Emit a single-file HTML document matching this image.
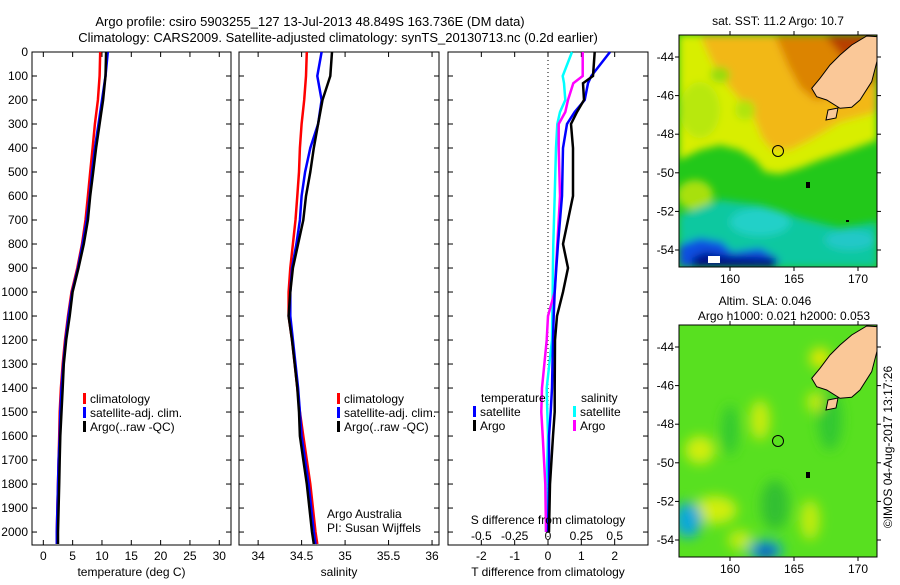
<!DOCTYPE html>
<html><head><meta charset="utf-8"><style>
html,body{margin:0;padding:0;background:#fff;}
svg text{font-family:"Liberation Sans",sans-serif;font-size:12px;fill:#000;}
</style></head><body>
<svg id="chart" width="900" height="580" viewBox="0 0 900 580" xmlns="http://www.w3.org/2000/svg">
<defs>
<filter id="blur" x="-10%" y="-10%" width="120%" height="120%"><feGaussianBlur stdDeviation="4"/></filter>
<filter id="blur2" x="-10%" y="-10%" width="120%" height="120%"><feGaussianBlur stdDeviation="6"/></filter>
<clipPath id="clipA"><rect x="679" y="35" width="198" height="232"/></clipPath>
<clipPath id="clipB"><rect x="679" y="325" width="198" height="232"/></clipPath>
</defs>
<text x="310" y="26" text-anchor="middle" style="font-size:13px">Argo profile: csiro 5903255_127 13-Jul-2013 48.849S 163.736E (DM data)</text>
<text x="338" y="42" text-anchor="middle" style="font-size:13px">Climatology: CARS2009. Satellite-adjusted climatology: synTS_20130713.nc (0.2d earlier)</text>

<!-- Map 1: SST -->
<g>
<text x="778" y="25" text-anchor="middle">sat. SST: 11.2 Argo: 10.7</text>
<g clip-path="url(#clipA)">
<rect x="679" y="35" width="198" height="232" fill="#22c81a"/>
<g filter="url(#blur)">
<path d="M679,160 L700,150 L720,145 L740,150 L755,160 L765,172 L780,174 L800,168 L820,160 L850,150 L877,140 L877,35 L679,35 Z" fill="#d8ee00"/>
<path d="M700,35 L877,35 L877,112 L840,122 L810,140 L790,150 L772,150 L762,138 L754,118 L740,100 L725,82 L712,62 Z" fill="#f2b818"/>
<path d="M775,35 L877,35 L877,82 L840,96 L815,100 L800,88 L788,66 Z" fill="#dc8400"/>
<path d="M825,35 L877,35 L877,55 L845,60 Z" fill="#b84000"/>
<ellipse cx="700" cy="110" rx="20" ry="28" fill="#b8e810"/>
<ellipse cx="720" cy="75" rx="10" ry="8" fill="#98dc10"/>
<ellipse cx="745" cy="110" rx="10" ry="10" fill="#b0e410"/>
<ellipse cx="695" cy="195" rx="18" ry="15" fill="#a8e010"/>
<path d="M679,215 L720,200 L760,205 L800,218 L840,228 L877,222 L877,267 L679,267 Z" fill="#10c8a0"/>
<ellipse cx="760" cy="222" rx="30" ry="14" fill="#20d0c8"/>
<ellipse cx="850" cy="240" rx="25" ry="10" fill="#20c8c8"/>
<path d="M679,245 L700,238 L722,242 L732,252 L760,248 L778,258 L778,267 L679,267 Z" fill="#1050e0"/>
<path d="M692,258 L705,252 L730,256 L776,258 L776,267 L692,267 Z" fill="#00108a"/>
</g>
<rect x="708" y="256" width="12" height="7" fill="#fff"/>
<circle cx="778" cy="151" r="5.5" fill="none" stroke="#000" stroke-width="1"/>
<path class="land" d="M866.7,36 L877.3,36.7 L877.3,60 L871.7,81.7 L860,100 L851.7,107.3 L840,108.3 L826.7,100 L816.7,96.7 L811.7,88.3 L820,78.3 L830,65 L840,55 L851.7,45 Z" fill="#fac898" stroke="#000" stroke-width="1"/>
<path d="M828,110 L838,108 L836,118 L826,120 Z" fill="#fac898" stroke="#000"/>
<rect x="806" y="182" width="4" height="6" fill="#000"/>
<rect x="846" y="220" width="3" height="2" fill="#000"/>
</g>
<rect x="679" y="35" width="198" height="232" fill="none" stroke="#000"/>
</g>

<!-- Map 2: SLA -->
<g>
<text x="765" y="305" text-anchor="middle">Altim. SLA: 0.046</text>
<text x="784" y="320" text-anchor="middle">Argo h1000: 0.021 h2000: 0.053</text>
<g clip-path="url(#clipB)">
<rect x="679" y="325" width="198" height="232" fill="#58e020"/>
<g filter="url(#blur2)">
<ellipse cx="700" cy="450" rx="15" ry="14" fill="#d0ee10"/>
<ellipse cx="715" cy="510" rx="22" ry="14" fill="#d0ee10"/>
<ellipse cx="760" cy="420" rx="10" ry="20" fill="#c8ec10"/>
<ellipse cx="730" cy="430" rx="8" ry="25" fill="#30c830"/>
<ellipse cx="775" cy="505" rx="14" ry="25" fill="#30c030"/>
<ellipse cx="830" cy="420" rx="12" ry="30" fill="#30c830"/>
<ellipse cx="810" cy="520" rx="10" ry="20" fill="#c0ec10"/>
<ellipse cx="740" cy="540" rx="12" ry="10" fill="#c0ec10"/>
<ellipse cx="815" cy="402" rx="8" ry="10" fill="#c8ec10"/>
<ellipse cx="820" cy="358" rx="10" ry="10" fill="#e8e800"/>
<ellipse cx="688" cy="520" rx="14" ry="18" fill="#10a8d8"/>
<ellipse cx="765" cy="550" rx="18" ry="10" fill="#10a8d0"/>
<ellipse cx="766" cy="552" rx="10" ry="6" fill="#1030c0"/>
</g>
<circle cx="778" cy="441" r="5.5" fill="none" stroke="#000" stroke-width="1"/>
<path class="land" d="M866.7,326 L877.3,326.7 L877.3,350 L871.7,371.7 L860,390 L851.7,397.3 L840,398.3 L826.7,390 L816.7,386.7 L811.7,378.3 L820,368.3 L830,355 L840,345 L851.7,335 Z" fill="#fac898" stroke="#000" stroke-width="1"/>
<path d="M828,400 L838,398 L836,408 L826,410 Z" fill="#fac898" stroke="#000"/>
<rect x="806" y="472" width="4" height="6" fill="#000"/>
</g>
<rect x="679" y="325" width="198" height="232" fill="none" stroke="#000"/>
</g>
<text transform="translate(892,447) rotate(-90)" text-anchor="middle">©IMOS 04-Aug-2017 13:17:26</text>
<g id="dyn"></g>
</svg>
<script>
// ---- Data ----
const depths = [0,100,200,300,400,500,600,700,800,900,1000,1100,1200,1300,1400,1500,1600,1700,1800,1900,2000,2050];
const tempClim = [9.7,9.6,9.3,8.8,8.4,8.0,7.6,7.2,6.6,5.8,4.8,4.2,3.7,3.3,3.0,2.8,2.7,2.6,2.5,2.4,2.3,2.3];
const tempSat  = [11.0,10.6,10.0,9.4,8.8,8.3,7.9,7.4,6.7,5.9,4.9,4.3,3.8,3.4,3.1,2.9,2.8,2.6,2.5,2.4,2.3,2.3];
const tempArgo = [10.7,10.6,10.2,9.6,9.0,8.5,8.0,7.6,6.9,6.0,5.0,4.5,3.9,3.5,3.3,3.1,2.9,2.8,2.7,2.6,2.5,2.5];
const salClim = [34.56,34.55,34.53,34.5,34.48,34.47,34.45,34.43,34.4,34.37,34.35,34.35,34.39,34.42,34.45,34.48,34.52,34.56,34.6,34.63,34.66,34.68];
const salSat  = [34.73,34.68,34.73,34.69,34.6,34.54,34.5,34.48,34.44,34.39,34.37,34.37,34.4,34.43,34.46,34.48,34.5,34.54,34.58,34.61,34.64,34.66];
const salArgo = [34.85,34.83,34.74,34.69,34.64,34.6,34.55,34.52,34.46,34.4,34.37,34.35,34.39,34.42,34.45,34.47,34.48,34.52,34.56,34.59,34.62,34.64];
const diffDepths = [0,100,130,200,250,300,400,600,700,800,900,1000,1100,1200,1400,1500,1600,1800,2000];
const tDiffSat  = [1.86,1.3,1.2,1.1,0.8,0.57,0.45,0.42,0.36,0.3,0.25,0.2,0.17,0.15,0.12,0.08,0.03,0.03,0.0];
const tDiffArgo = [1.4,1.35,1.05,1.08,0.87,0.69,0.75,0.75,0.6,0.45,0.6,0.45,0.27,0.21,0.2,0.2,0.15,0.06,0.03];
const sDiffSat  = [0.18,0.11,0.12,0.13,0.09,0.07,0.06,0.05,0.045,0.04,0.037,0.035,0.032,0.03,-0.01,-0.005,0,-0.01,-0.015];
const sDiffArgo = [0.26,0.26,0.19,0.15,0.13,0.08,0.08,0.09,0.08,0.07,0.06,0.05,0,-0.01,-0.045,-0.05,-0.04,-0.02,-0.015];
const depthTicks = [0,100,200,300,400,500,600,700,800,900,1000,1100,1200,1300,1400,1500,1600,1700,1800,1900,2000];
const tempTicks = [0,5,10,15,20,25,30];
const salTicks = [34,34.5,35,35.5,36];
const tDiffTicks = [-2,-1,0,1,2];
const sDiffTicks = [-0.5,-0.25,0,0.25,0.5];
const sDiffTickLabels = ["-0.5","-0.25","0","0.25","0.5"];
const lonTicks = [160,165,170];
const latTicks = [-44,-46,-48,-50,-52,-54];

// ---- Scales ----
const NS="http://www.w3.org/2000/svg";
const g=document.getElementById('dyn');
const Y0=52, Y1=545, D0=0, D1=2054;
const yD=d=>Y0+(d-D0)/(D1-D0)*(Y1-Y0);
const P1={x0:32,x1:231,v0:-1.93,v1:32};
const P2={x0:239,x1:439,v0:33.78,v1:36.08};
const P3={x0:448,x1:648,v0:-3,v1:3};
const P3s={x0:448,x1:648,v0:-0.75,v1:0.75};
const sx=(P,v)=>P.x0+(v-P.v0)/(P.v1-P.v0)*(P.x1-P.x0);
const lonX=lon=>730+(lon-160)*12.8;
const latY=(lat,off)=>57+(-44-lat)*19.3+off;

function el(tag,attrs,parent){const e=document.createElementNS(NS,tag);for(const k in attrs)e.setAttribute(k,attrs[k]);(parent||g).appendChild(e);return e;}
function txt(x,y,s,anchor,parent){const t=el('text',{x:x,y:y,'text-anchor':anchor||'start'},parent);t.textContent=s;return t;}

function line(P,xs,ds,color,name){
  const pts=xs.map((v,i)=>sx(P,v).toFixed(1)+','+yD(ds[i]).toFixed(1)).join(' ');
  const p=el('polyline',{points:pts,fill:'none',stroke:color,'stroke-width':2.5});
  
  
}

function frame(P,name,xticks,xlabels,xtitle){
  const r=el('rect',{x:P.x0,y:Y0,width:P.x1-P.x0,height:Y1-Y0,fill:'none',stroke:'#000'});
  
  
  depthTicks.forEach(d=>{
    el('line',{x1:P.x0,x2:P.x0+5,y1:yD(d),y2:yD(d),stroke:'#000'});
    el('line',{x1:P.x1-5,x2:P.x1,y1:yD(d),y2:yD(d),stroke:'#000'});
  });
  if(xticks){
    xticks.forEach((v,i)=>{
      const x=sx(P,v);
      el('line',{x1:x,x2:x,y1:Y0,y2:Y0+5,stroke:'#000'});
      el('line',{x1:x,x2:x,y1:Y1-5,y2:Y1,stroke:'#000'});
      const t=txt(x,560,xlabels[i],'middle');
      
      
    });
  }
  const tt=txt((P.x0+P.x1)/2,576,xtitle,'middle');
  
  
}

// Panel 1
frame(P1,'temperature-panel',tempTicks,tempTicks.map(String),'temperature (deg C)');
depthTicks.forEach(d=>{
  const t=txt(28,yD(d)+4,String(d),'end');
  
  
});
line(P1,tempClim,depths,'#ff0000','temp-climatology-line');
line(P1,tempSat,depths,'#0000ff','temp-satellite-line');
line(P1,tempArgo,depths,'#000000','temp-argo-line');

// Panel 2
frame(P2,'salinity-panel',salTicks,salTicks.map(String),'salinity');
line(P2,salClim,depths,'#ff0000','sal-climatology-line');
line(P2,salSat,depths,'#0000ff','sal-satellite-line');
line(P2,salArgo,depths,'#000000','sal-argo-line');

// Panel 3
frame(P3,'difference-panel',tDiffTicks,tDiffTicks.map(String),'T difference from climatology');
el('line',{x1:sx(P3,0),x2:sx(P3,0),y1:Y0,y2:Y1,stroke:'#000','stroke-dasharray':'1,3'});
line(P3s,sDiffSat,diffDepths,'#00ffff','s-diff-satellite-line');
line(P3s,sDiffArgo,diffDepths,'#ff00ff','s-diff-argo-line');
line(P3,tDiffSat,diffDepths,'#0000ff','t-diff-satellite-line');
line(P3,tDiffArgo,diffDepths,'#000000','t-diff-argo-line');
sDiffTicks.forEach((v,i)=>{
  const t=txt(sx(P3s,v),540,sDiffTickLabels[i],'middle');
  
  
});
const st=txt(548,524,'S difference from climatology','middle');



// Legends
function legendEntry(x,y,color,label,name){
  const m=el('rect',{x:x,y:y-10,width:3,height:11,fill:color});
  
  
  const t=txt(x+7,y,label);
  
  
}
[[83,'temp'],[337,'sal']].forEach(([x,n])=>{
  legendEntry(x,403,'#ff0000','climatology',n+'-legend-climatology');
  legendEntry(x,417,'#0000ff','satellite-adj. clim.',n+'-legend-satellite');
  legendEntry(x,431,'#000000','Argo(..raw -QC)',n+'-legend-argo');
});
const lt=txt(481,402,'temperature');


const ls=txt(581,402,'salinity');


legendEntry(473,416,'#0000ff','satellite','diff-legend-t-satellite');
legendEntry(473,430,'#000000','Argo','diff-legend-t-argo');
legendEntry(573,416,'#00ffff','satellite','diff-legend-s-satellite');
legendEntry(573,430,'#ff00ff','Argo','diff-legend-s-argo');
const a1=txt(327,518,'Argo Australia');


const a2=txt(327,532,'PI: Susan Wijffels');



// Map axes
[[0,35,267,283],[290,325,557,573]].forEach(([off,top,bot,ly])=>{
  lonTicks.forEach(lon=>{
    const x=lonX(lon);
    el('line',{x1:x,x2:x,y1:top-4,y2:top,stroke:'#000'});
    el('line',{x1:x,x2:x,y1:bot,y2:bot+4,stroke:'#000'});
    const t=txt(x,ly,String(lon),'middle');
    
    
  });
  latTicks.forEach(lat=>{
    const y=latY(lat,off);
    el('line',{x1:675,x2:679,y1:y,y2:y,stroke:'#000'});
    el('line',{x1:877,x2:881,y1:y,y2:y,stroke:'#000'});
    const t=txt(674,y+4,String(lat),'end');
    
    
  });
});
</script>
</body></html>
